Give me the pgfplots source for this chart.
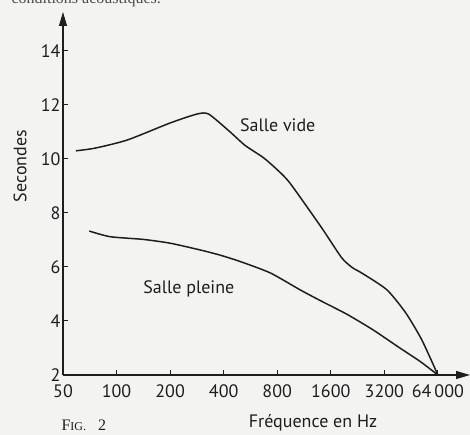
\documentclass[border=0pt]{standalone}
\usepackage{fontspec}
\setmainfont{PT Sans}
\newfontfamily\seriffont{Liberation Serif}
\usepackage{pgfplots}
\pgfplotsset{compat=1.18}
\usetikzlibrary{arrows.meta}
\definecolor{bg}{RGB}{243,243,241}
\definecolor{ink}{RGB}{30,30,30}
\begin{document}
\begin{tikzpicture}[x=1pt,y=1pt]
\path[use as bounding box, fill=bg] (0,0) rectangle (470,435);
\begin{scope}
\clip (0,0) rectangle (470,435);
\node[anchor=base west, font=\seriffont\fontsize{16}{16}\selectfont, text=ink!80] at (8,431) {conditions acoustiques.};
\end{scope}
\begin{axis}[
  at={(63pt,60pt)}, anchor=south west,
  scale only axis, width=407pt, height=363pt,
  xmin=0, xmax=7.6, ymin=2, ymax=15.44,
  axis lines=left,
  axis line style={line width=1.1pt, draw=ink, -{Triangle[length=14pt,width=8pt]}},
  xtick={0,1,2,3,4,5,6,7},
  xticklabels={50,100,200,400,800,1600,3200,64\,000},
  ytick={2,4,6,8,10,12,14},
  tick align=inside,
  major tick length=5pt,
  tick style={line width=1pt, draw=ink},
  /pgf/number format/assume math mode=true,
  ticklabel style={font=\fontsize{18}{18}\selectfont, text=ink},
  xticklabel style={yshift=-6pt},
  yticklabel style={xshift=1pt},
  clip=false,
]
\addplot[ink, line width=1.5pt, smooth, tension=0.4] coordinates {
(0.24,10.3) (0.6,10.4) (1.2,10.7) (2.0,11.33) (2.5,11.66) (2.72,11.66) (3.12,11.0) (3.4,10.5) (3.74,10.05) (4.0,9.6) (4.24,9.1) (4.83,7.45) (5.2,6.35) (5.4,5.98) (5.6,5.75) (6.05,5.15) (6.4,4.3) (6.7,3.3) (7.0,2.0)
};
\addplot[ink, line width=1.5pt, smooth, tension=0.4] coordinates {
(0.49,7.33) (0.88,7.12) (1.5,7.02) (2.0,6.88) (2.56,6.63) (2.93,6.44) (3.31,6.2) (3.87,5.78) (4.43,5.15) (4.8,4.76) (5.3,4.25) (5.79,3.67) (6.29,3.0) (6.67,2.5) (7.0,2.0)
};
\node[font=\fontsize{18}{18}\selectfont, text=ink] at (axis cs:4.01,11.26) {Salle vide};
\node[font=\fontsize{18}{18}\selectfont, text=ink] at (axis cs:2.35,5.19) {Salle pleine};
\end{axis}
\node[rotate=90, font=\fontsize{18}{18}\selectfont, text=ink] at (20,269) {Secondes};
\node[font=\fontsize{18}{18}\selectfont, text=ink] at (313,12) {Fréquence en Hz};
\node[anchor=west, font=\seriffont, text=ink] at (58,10) {{\fontsize{16}{16}\selectfont F}{\fontsize{12}{12}\selectfont IG.}\hspace{12pt}{\fontsize{16}{16}\selectfont 2}};
\end{tikzpicture}
\end{document}
